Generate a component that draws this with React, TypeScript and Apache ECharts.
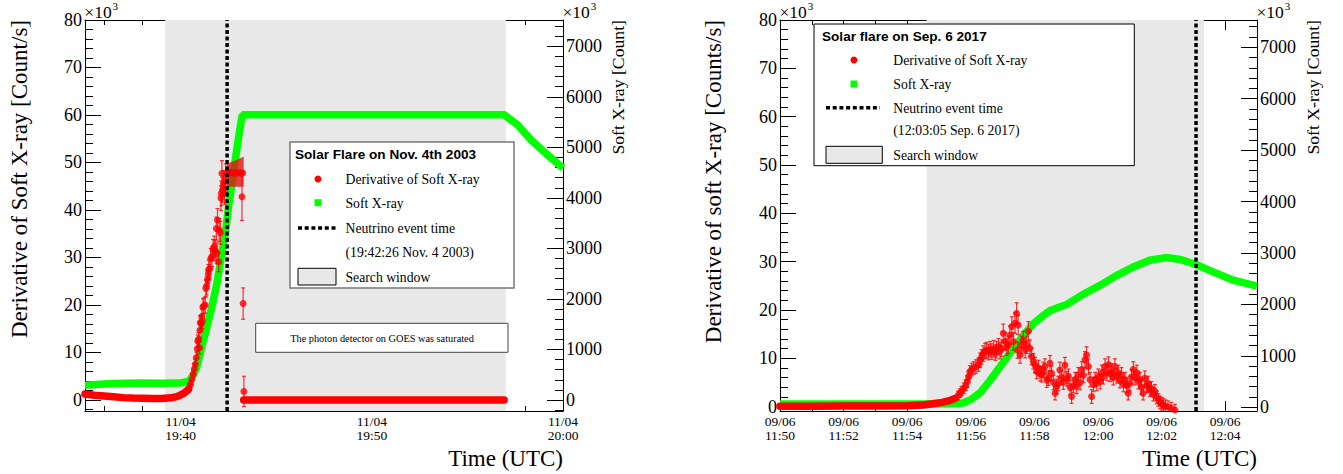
import React, { useEffect, useRef } from "react";
import * as echarts from "echarts";

const SERIF = '"Liberation Serif", "Times New Roman", serif';
const SANS = '"Liberation Sans", Arial, sans-serif';
const RED = "#ff0000";
const GREEN = "#00ff00";
const SHADE = "#e8e8e8";

// ---------------- Left panel: Nov. 4 2003 (x = minutes after 19:35 UTC) ----------------
const L_X_RANGE = [0, 25];
const L_X_MAJOR = [5, 15, 25];
const L_X_LABELS = ["11/04\n19:40", "11/04\n19:50", "11/04\n20:00"];
const L_X_MINOR = [1, 3, 7, 9, 11, 13, 17, 19, 21, 23];
const L_DER_RANGE = [-2.316, 80];
const L_SXR_RANGE = [-218, 7520];
const L_NEUTRINO_T = 7.433; // 19:42:26
const L_WINDOW = [4.19, 22.01];

// Soft X-ray [x10^3 Count]
const L_SXR: number[][] = [
  [0, 290], [1, 315], [2, 330], [3, 335], [4, 331], [4.98, 335], [5.3, 360], [5.5, 400],
  [5.7, 520], [5.85, 660], [6.11, 1055], [6.38, 1451], [6.64, 1848], [6.9, 2310],
  [7.16, 2905], [7.34, 3300], [7.51, 3828], [7.69, 4290], [7.86, 4752], [8.04, 5214],
  [8.21, 5610], [8.3, 5643], [21.92, 5643], [22.62, 5446], [23.32, 5149], [24.19, 4851], [25.0, 4588],
];
// derivative [x10^3 Count/s], dense stretches
const L_DER_PRE: number[][] = [
  [0, 1.25], [0.5, 1.0], [1, 0.85], [1.5, 0.7], [2, 0.5], [2.5, 0.4], [3, 0.35], [3.5, 0.3],
  [4, 0.3], [4.5, 0.45], [4.8, 0.7], [5.0, 1.05], [5.2, 1.5], [5.4, 2.2],
];
const L_DER_SATURATED_FLAT: number[][] = [[8.3, 0], [21.92, 0]];
// [t, value, error]
const L_DER_POINTS: number[][] = [
  [5.45, 2.6, 0.8], [5.52, 3.3, 0.9], [5.59, 4.3, 1.0], [5.66, 5.4, 1.0], [5.72, 6.5, 1.1],
  [5.77, 7.5, 1.1], [5.82, 8.9, 1.2], [5.87, 10.8, 1.3], [5.9, 12.4, 1.3], [5.94, 12.8, 1.4],
  [5.99, 11.0, 1.3], [6.01, 14.7, 1.5], [6.03, 16.3, 1.5], [6.08, 16.0, 1.5], [6.11, 17.5, 1.6],
  [6.14, 16.6, 1.6], [6.17, 19.6, 1.7], [6.22, 19.8, 1.7], [6.29, 20.0, 1.7], [6.32, 23.5, 1.8],
  [6.36, 24.0, 1.9], [6.41, 25.3, 1.9], [6.45, 26.5, 2.0], [6.47, 27.4, 2.0], [6.53, 27.7, 2.0],
  [6.58, 29.8, 2.1], [6.64, 30.2, 2.1], [6.7, 31.6, 2.2], [6.76, 32.3, 2.2], [6.81, 31.5, 2.2],
  [6.87, 36.1, 2.4], [6.9, 30.9, 2.2], [6.93, 37.9, 2.4], [6.99, 29.1, 2.1], [7.02, 35.8, 2.4],
  [7.08, 35.2, 2.4], [7.11, 42.5, 2.6], [7.13, 43.5, 2.6], [7.16, 47.7, 2.7], [7.19, 44.2, 2.6],
  [7.25, 45.6, 2.7], [7.3, 43.8, 2.6], [7.36, 47.0, 2.7],
  [7.45, 47.8, 0], [7.55, 47.8, 0], [7.65, 47.9, 0], [7.75, 47.8, 0], [7.85, 47.9, 0],
  [7.95, 47.8, 0], [8.05, 47.9, 0], [8.15, 47.8, 0], [8.25, 47.8, 0],
  [8.21, 42.8, 5.0], [8.27, 20.3, 3.3], [8.31, 1.8, 3.2],
];
// saturated error band
const L_SAT_T = [7.42, 8.3];
const L_SAT_LOW = [44.9, 44.9];
const L_SAT_HIGH = [49.7, 51.2];

// ---------------- Right panel: Sep. 6 2017 (x = minutes after 11:50 UTC) ----------------
const R_X_RANGE = [0, 15];
const R_X_MAJOR = [0, 2, 4, 6, 8, 10, 12, 14];
const R_X_LABELS = [
  "09/06\n11:50", "09/06\n11:52", "09/06\n11:54", "09/06\n11:56",
  "09/06\n11:58", "09/06\n12:00", "09/06\n12:02", "09/06\n12:04",
];
const R_X_MINOR = [1, 3, 5, 7, 9, 11, 13, 15];
const R_DER_RANGE = [-0.89, 80];
const R_SXR_RANGE = [-72, 7531];
const R_NEUTRINO_T = 13.083; // 12:03:05
const R_WINDOW = [4.61, 13.33];

const R_SXR: number[][] = [
  [0, 65], [4.5, 65], [5.3, 70], [5.76, 85], [6.0, 150], [6.29, 280], [6.6, 520], [6.92, 790],
  [7.23, 1050], [7.5, 1270], [7.74, 1460], [7.97, 1628], [8.25, 1770], [8.49, 1880], [8.75, 1940],
  [9.02, 2000], [9.54, 2200], [10.06, 2370], [10.58, 2560], [11.11, 2730], [11.63, 2860],
  [12.16, 2910], [12.58, 2875], [13.08, 2776], [13.62, 2633], [14.25, 2471], [15.0, 2354],
];
const R_DER_PRE: number[][] = [
  [0, 0.1], [1, 0.1], [2, 0.15], [3, 0.15], [4, 0.2], [4.5, 0.35], [4.8, 0.6], [5.1, 0.9],
  [5.3, 1.2], [5.5, 1.7],
];
const R_DER_POINTS: number[][] = [
  [5.6, 2.3, 0.9], [5.66, 2.8, 0.9], [5.71, 3.2, 1.0], [5.78, 3.8, 1.1], [5.84, 4.4, 1.1],
  [5.89, 5.2, 1.2], [5.93, 6.2, 1.2], [5.97, 7.2, 1.3], [6.03, 7.7, 1.3], [6.09, 8.0, 1.3],
  [6.16, 8.3, 1.4], [6.24, 8.7, 1.4], [6.29, 9.6, 1.5], [6.34, 10.3, 1.5], [6.39, 11.0, 1.6],
  [6.45, 11.5, 1.6], [6.5, 11.7, 1.6], [6.56, 11.3, 1.6], [6.61, 11.9, 1.6], [6.66, 11.4, 1.6],
  [6.72, 12.0, 1.7], [6.77, 11.2, 1.6], [6.81, 11.8, 1.7], [6.87, 12.4, 1.7], [6.92, 11.6, 1.7],
  [6.97, 12.1, 1.7], [7.02, 15.2, 1.9], [7.08, 13.5, 1.8], [7.13, 12.3, 1.7], [7.18, 12.8, 1.8],
  [7.23, 14.8, 1.9], [7.29, 16.6, 2.0], [7.34, 13.5, 1.8], [7.39, 17.3, 2.1], [7.44, 19.3, 2.2],
  [7.49, 16.9, 2.0], [7.47, 11.7, 1.7], [7.55, 10.7, 1.7], [7.6, 12.8, 1.8], [7.65, 13.8, 1.8],
  [7.71, 11.8, 1.7], [7.76, 12.8, 1.8], [7.81, 15.6, 2.0], [7.86, 12.1, 1.7], [7.91, 10.4, 1.7],
  [7.97, 9.4, 1.6], [8.02, 8.6, 1.6], [8.07, 7.3, 1.5], [8.13, 8.0, 1.6], [8.18, 6.8, 1.5],
  [8.23, 6.6, 1.5], [8.28, 7.6, 1.6], [8.33, 8.3, 1.6], [8.39, 5.5, 1.5], [8.44, 5.9, 1.5],
  [8.49, 9.0, 1.6], [8.54, 6.9, 1.5], [8.6, 5.0, 1.5], [8.65, 2.8, 1.4], [8.7, 4.2, 1.5],
  [8.75, 4.8, 1.5], [8.8, 7.6, 1.6], [8.86, 6.0, 1.5], [8.91, 5.1, 1.5], [8.96, 8.6, 1.6],
  [9.02, 5.8, 1.5], [9.07, 6.3, 1.5], [9.12, 4.0, 1.5], [9.17, 2.1, 1.4], [9.23, 4.4, 1.5],
  [9.28, 5.6, 1.5], [9.33, 4.2, 1.5], [9.38, 6.6, 1.5], [9.44, 5.0, 1.5], [9.49, 7.7, 1.6],
  [9.54, 6.5, 1.5], [9.59, 9.7, 1.7], [9.64, 10.7, 1.7], [9.7, 8.3, 1.6], [9.75, 5.6, 1.5],
  [9.8, 2.1, 1.4], [9.86, 4.6, 1.5], [9.91, 5.6, 1.5], [9.96, 4.8, 1.5], [10.01, 6.3, 1.5],
  [10.07, 5.2, 1.5], [10.12, 7.0, 1.6], [10.17, 6.2, 1.5], [10.22, 8.3, 1.6], [10.28, 7.0, 1.6],
  [10.33, 8.7, 1.6], [10.38, 6.8, 1.6], [10.43, 7.3, 1.6], [10.48, 6.0, 1.5], [10.53, 8.3, 1.6],
  [10.59, 6.4, 1.5], [10.64, 7.0, 1.6], [10.69, 5.4, 1.5], [10.74, 6.6, 1.5], [10.8, 4.6, 1.5],
  [10.85, 5.6, 1.5], [10.9, 4.4, 1.5], [10.95, 2.8, 1.4], [11.0, 4.8, 1.5], [11.06, 6.2, 1.5],
  [11.11, 7.7, 1.6], [11.16, 6.0, 1.5], [11.22, 7.0, 1.6], [11.27, 5.2, 1.5], [11.32, 5.6, 1.5],
  [11.37, 4.0, 1.5], [11.42, 2.8, 1.4], [11.47, 5.9, 1.5], [11.53, 4.4, 1.5], [11.58, 4.8, 1.5],
  [11.63, 3.5, 1.4], [11.68, 3.8, 1.4], [11.74, 2.6, 1.4], [11.79, 3.2, 1.4], [11.85, 1.9, 1.3],
  [11.9, 1.4, 1.3], [11.96, 0.9, 1.3], [12.01, 0.6, 1.3], [12.06, 0.35, 1.3], [12.12, 0.1, 1.3],
  [12.2, 0.0, 1.2], [12.3, -0.3, 1.2], [12.42, -0.7, 1.2],
];

const DER_MAJOR = [0, 10, 20, 30, 40, 50, 60, 70, 80];
const SXR_MAJOR = [0, 1000, 2000, 3000, 4000, 5000, 6000, 7000];

function minorTicks(lo: number, hi: number, step: number, majorStep: number) {
  const out: number[] = [];
  for (let k = Math.ceil(lo / step); k * step <= hi + 1e-9; k++) {
    const v = +(k * step).toFixed(6);
    const r = v / majorStep;
    if (Math.abs(r - Math.round(r)) > 1e-6) out.push(v);
  }
  return out;
}

const AX_LINE = { color: "#000", width: 1 };

function xAxesFor(g: number, range: number[], major: number[], minor: number[], labels: string[]) {
  const base = { type: "value", gridIndex: g, min: range[0], max: range[1], splitLine: { show: false } };
  return [
    {
      ...base, position: "bottom",
      axisLine: { show: true, onZero: false, lineStyle: AX_LINE },
      axisTick: { show: true, inside: true, length: 10, customValues: major, lineStyle: AX_LINE },
      axisLabel: {
        show: true, customValues: major,
        formatter: (v: number) => labels[major.indexOf(v)] ?? "",
        color: "#000", fontFamily: SERIF, fontSize: 13.5, lineHeight: 14, margin: 3,
      },
    },
    {
      ...base, position: "bottom",
      axisLine: { show: false, onZero: false },
      axisTick: { show: true, inside: true, length: 5, customValues: minor, lineStyle: AX_LINE },
      axisLabel: { show: false },
    },
    {
      ...base, position: "top",
      axisLine: { show: true, onZero: false, lineStyle: AX_LINE },
      axisTick: { show: true, inside: true, length: 10, customValues: major, lineStyle: AX_LINE },
      axisLabel: { show: false },
    },
    {
      ...base, position: "top",
      axisLine: { show: false, onZero: false },
      axisTick: { show: true, inside: true, length: 5, customValues: minor, lineStyle: AX_LINE },
      axisLabel: { show: false },
    },
  ];
}

function yAxesFor(g: number, derRange: number[], sxrRange: number[]) {
  const derMinor = minorTicks(derRange[0], derRange[1], 2, 10);
  const sxrMinor = minorTicks(sxrRange[0], sxrRange[1], 200, 1000);
  const lab = { color: "#000", fontFamily: SERIF, fontSize: 18, lineHeight: 13, margin: 3, formatter: (v: number) => String(v) };
  const mk = (pos: string, range: number[], ticks: number[], len: number, labels: boolean, line: boolean) => ({
    type: "value", gridIndex: g, position: pos, min: range[0], max: range[1],
    splitLine: { show: false },
    axisLine: { show: line, onZero: false, lineStyle: AX_LINE },
    axisTick: { show: true, inside: true, length: len, customValues: ticks, lineStyle: AX_LINE },
    axisLabel: labels ? { show: true, customValues: ticks, ...lab } : { show: false },
  });
  return [
    mk("left", derRange, DER_MAJOR, 16, true, true),
    mk("left", derRange, derMinor, 8, false, false),
    mk("right", sxrRange, SXR_MAJOR, 16, true, true),
    mk("right", sxrRange, sxrMinor, 8, false, false),
  ];
}

function panelSeries(
  xi: number, yDer: number, ySxr: number, derRange: number[],
  win: number[], sxr: number[][], derLines: number[][][], pts: number[][], neutrino: number,
) {
  const list: any[] = [
    {
      type: "custom", xAxisIndex: xi, yAxisIndex: yDer, z: 1, silent: true,
      data: [[win[0], win[1]]],
      renderItem: (params: any, api: any) => {
        const cs = params.coordSys;
        const a = api.coord([api.value(0), 0]);
        const b = api.coord([api.value(1), 0]);
        return { type: "rect", shape: { x: a[0], y: cs.y, width: b[0] - a[0], height: cs.height }, style: { fill: SHADE } };
      },
    },
    {
      type: "line", xAxisIndex: xi, yAxisIndex: ySxr, data: sxr, symbol: "none", z: 2, silent: true, clip: false,
      lineStyle: { color: GREEN, width: 7.5, cap: "butt", join: "miter" },
    },
  ];
  derLines.forEach((d) => {
    list.push({
      type: "line", xAxisIndex: xi, yAxisIndex: yDer, data: d, symbol: "none", z: 3, silent: true,
      lineStyle: { color: RED, width: 7.5, cap: "round", join: "round" },
    });
  });
  list.push({
    type: "custom", xAxisIndex: xi, yAxisIndex: yDer, z: 4, silent: true, clip: true,
    data: pts, encode: { x: 0, y: 1 },
    renderItem: (_p: any, api: any) => {
      const t = api.value(0), v = api.value(1), e = api.value(2);
      if (!(e > 0)) return null;
      const p1 = api.coord([t, v + e]);
      const p2 = api.coord([t, v - e]);
      const st = { stroke: "rgba(255,0,0,0.8)", lineWidth: 1.2 };
      return {
        type: "group",
        children: [
          { type: "line", shape: { x1: p1[0], y1: p1[1], x2: p2[0], y2: p2[1] }, style: st },
          { type: "line", shape: { x1: p1[0] - 2, y1: p1[1], x2: p1[0] + 2, y2: p1[1] }, style: st },
          { type: "line", shape: { x1: p2[0] - 2, y1: p2[1], x2: p2[0] + 2, y2: p2[1] }, style: st },
        ],
      };
    },
  });
  list.push({
    type: "scatter", xAxisIndex: xi, yAxisIndex: yDer, z: 5, silent: true,
    data: pts.map((p) => [p[0], p[1]]), symbol: "circle", symbolSize: 7, itemStyle: { color: RED },
  });
  list.push({
    type: "line", xAxisIndex: xi, yAxisIndex: yDer, z: 6, silent: true, symbol: "none",
    data: [[neutrino, derRange[0]], [neutrino, derRange[1]]],
    lineStyle: { color: "#000", width: 3.5, type: [4, 2.5] },
  });
  return list;
}

function txt(x: number, y: number, text: string, o: any = {}) {
  return {
    type: "text", x, y, z: 110, silent: true, rotation: o.rotation ?? 0,
    style: {
      text, fill: "#000", fontFamily: o.fontFamily ?? SERIF, fontSize: o.fontSize ?? 13.7,
      fontWeight: o.fontWeight ?? "normal", align: o.align ?? "left", verticalAlign: o.verticalAlign ?? "middle",
    },
  };
}

function x10(x: number) {
  return [txt(x, 12, "×10", { fontSize: 17.5 }), txt(x + 28.2, 5.5, "3", { fontSize: 11 })];
}

function buildOption() {
  const satRender = (params: any, api: any) => {
    if (params.dataIndex !== 0) return null;
    const top = L_SAT_T.map((t, i) => api.coord([t, L_SAT_HIGH[i]]));
    const bot = L_SAT_T.map((t, i) => api.coord([t, L_SAT_LOW[i]])).reverse();
    return { type: "polygon", shape: { points: [...top, ...bot] }, style: { fill: "rgba(225,20,20,0.8)" } };
  };

  const graphic: any[] = [
    // axis titles
    txt(19, 20, "Derivative of Soft X-ray [Count/s]", { rotation: Math.PI / 2, align: "right", fontSize: 23 }),
    txt(618, 20, "Soft X-ray [Count]", { rotation: Math.PI / 2, align: "right", fontSize: 17.7 }),
    txt(563, 458, "Time (UTC)", { align: "right", fontSize: 23 }),
    txt(713, 20, "Derivative of soft X-ray [Counts/s]", { rotation: Math.PI / 2, align: "right", fontSize: 23 }),
    txt(1313, 20, "Soft X-ray [Count]", { rotation: Math.PI / 2, align: "right", fontSize: 17.7 }),
    txt(1257, 458, "Time (UTC)", { align: "right", fontSize: 23 }),
    ...x10(84.3), ...x10(562.5), ...x10(779.5), ...x10(1256.5),

    // left legend
    { type: "rect", z: 100, silent: true, shape: { x: 290, y: 142, width: 224, height: 146 }, style: { fill: "#fff", stroke: "#777", lineWidth: 1.5 } },
    txt(295, 154, "Solar Flare on Nov. 4th 2003", { fontFamily: SANS, fontWeight: "bold", fontSize: 13.6 }),
    { type: "circle", z: 110, silent: true, shape: { cx: 318, cy: 179, r: 3.5 }, style: { fill: RED } },
    txt(345.5, 179, "Derivative of Soft X-ray"),
    { type: "rect", z: 110, silent: true, shape: { x: 314.5, y: 199.2, width: 7, height: 7 }, style: { fill: GREEN } },
    txt(345.5, 203, "Soft X-ray"),
    { type: "line", z: 110, silent: true, shape: { x1: 298, y1: 228, x2: 336, y2: 228 }, style: { stroke: "#000", lineWidth: 3.5, lineDash: [4, 2.7] } },
    txt(345.5, 228, "Neutrino event time"),
    txt(345.5, 252, "(19:42:26 Nov. 4 2003)"),
    { type: "rect", z: 110, silent: true, shape: { x: 298, y: 268.3, width: 38, height: 16.7 }, style: { fill: SHADE, stroke: "#000", lineWidth: 1 } },
    txt(345.5, 277, "Search window"),

    // note box
    { type: "rect", z: 100, silent: true, shape: { x: 255.7, y: 323.3, width: 252.3, height: 29 }, style: { fill: "#fff", stroke: "#444", lineWidth: 1 } },
    txt(382, 338, "The photon detector on GOES was saturated", { align: "center", fontSize: 10.3 }),

    // right legend
    { type: "rect", z: 100, silent: true, shape: { x: 814, y: 24, width: 320.3, height: 141.7 }, style: { fill: "#fff", stroke: "#000", lineWidth: 1 } },
    txt(822, 36, "Solar flare on Sep. 6 2017", { fontFamily: SANS, fontWeight: "bold", fontSize: 13.6 }),
    { type: "circle", z: 110, silent: true, shape: { cx: 854, cy: 60, r: 3.5 }, style: { fill: RED } },
    txt(893.3, 60, "Derivative of Soft X-ray"),
    { type: "rect", z: 110, silent: true, shape: { x: 850.5, y: 80.5, width: 7, height: 7 }, style: { fill: GREEN } },
    txt(893.3, 84, "Soft X-ray"),
    { type: "line", z: 110, silent: true, shape: { x1: 826, y1: 107.7, x2: 880, y2: 107.7 }, style: { stroke: "#000", lineWidth: 3.5, lineDash: [4, 2.7] } },
    txt(893.3, 108, "Neutrino event time"),
    txt(893.3, 130, "(12:03:05 Sep. 6 2017)"),
    { type: "rect", z: 110, silent: true, shape: { x: 826, y: 146.3, width: 56.3, height: 17 }, style: { fill: SHADE, stroke: "#000", lineWidth: 1 } },
    txt(893.3, 155.5, "Search window"),
  ];

  const leftSeries = panelSeries(0, 0, 2, L_DER_RANGE, L_WINDOW, L_SXR, [L_DER_PRE, L_DER_SATURATED_FLAT], L_DER_POINTS, L_NEUTRINO_T);
  leftSeries.push({
    type: "custom", xAxisIndex: 0, yAxisIndex: 0, z: 4, silent: true,
    data: L_SAT_T.map((t, i) => [t, L_SAT_LOW[i], L_SAT_HIGH[i]]), encode: { x: 0, y: 1 },
    renderItem: satRender,
  });
  const rightSeries = panelSeries(4, 4, 6, R_DER_RANGE, R_WINDOW, R_SXR, [R_DER_PRE], R_DER_POINTS, R_NEUTRINO_T);

  return {
    animation: false,
    backgroundColor: "#fff",
    textStyle: { fontFamily: SERIF },
    grid: [
      { left: 85, top: 20, width: 478, height: 391 },
      { left: 780, top: 20, width: 477, height: 391 },
    ],
    xAxis: [
      ...xAxesFor(0, L_X_RANGE, L_X_MAJOR, L_X_MINOR, L_X_LABELS),
      ...xAxesFor(1, R_X_RANGE, R_X_MAJOR, R_X_MINOR, R_X_LABELS),
    ],
    yAxis: [...yAxesFor(0, L_DER_RANGE, L_SXR_RANGE), ...yAxesFor(1, R_DER_RANGE, R_SXR_RANGE)],
    series: [...leftSeries, ...rightSeries],
    graphic,
  };
}

export default function App() {
  const ref = useRef<HTMLDivElement>(null);
  useEffect(() => {
    document.body.style.margin = "0";
    const chart = echarts.init(ref.current!, null, { renderer: "svg" });
    chart.setOption(buildOption() as any);
    return () => chart.dispose();
  }, []);
  return <div ref={ref} style={{ width: 1343, height: 474 }} />;
}
